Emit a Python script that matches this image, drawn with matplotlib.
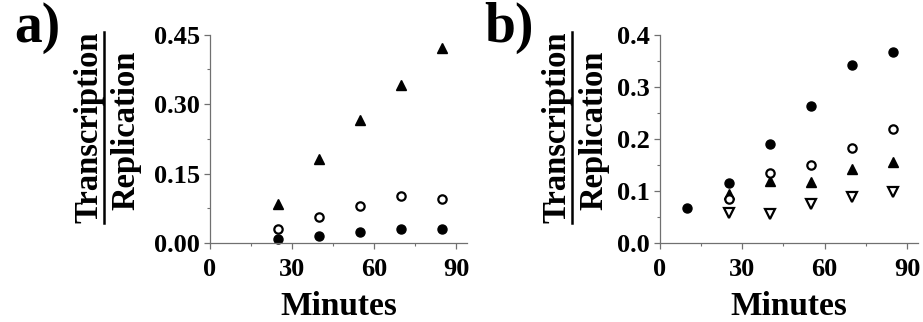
import matplotlib
matplotlib.use('Agg')
from matplotlib import pyplot as plt
from matplotlib.lines import Line2D
from matplotlib.ticker import MultipleLocator, FormatStrFormatter

plt.rcParams['font.family'] = ['Liberation Serif', 'DejaVu Serif']
plt.rcParams['font.weight'] = 'bold'

minutes = [25, 40, 55, 70, 85]

# panel a
a_triangle = [0.084, 0.182, 0.266, 0.342, 0.421]
a_open = [0.031, 0.057, 0.079, 0.102, 0.095]
a_filled = [0.009, 0.015, 0.024, 0.030, 0.031]

# panel b
b_filled_min = [10, 25, 40, 55, 70, 85]
b_filled = [0.068, 0.115, 0.190, 0.263, 0.341, 0.367]
b_open = [0.085, 0.134, 0.150, 0.183, 0.219]
b_triangle = [0.095, 0.119, 0.118, 0.143, 0.156]
b_down = [0.057, 0.055, 0.075, 0.089, 0.097]

AXIS_GRAY = '#707070'


def style_axis(ax, ymax, ystep, yfmt):
    ax.set_xlim(0, 94)
    ax.set_ylim(0, ymax)
    ax.xaxis.set_major_locator(MultipleLocator(30))
    ax.xaxis.set_minor_locator(MultipleLocator(15))
    ax.yaxis.set_major_locator(MultipleLocator(ystep))
    ax.yaxis.set_minor_locator(MultipleLocator(ystep / 2))
    ax.yaxis.set_major_formatter(FormatStrFormatter(yfmt))
    for side in ['top', 'right']:
        ax.spines[side].set_visible(False)
    for side in ['left', 'bottom']:
        ax.spines[side].set_color(AXIS_GRAY)
        ax.spines[side].set_linewidth(0.9)
    ax.tick_params(which='major', length=4, width=0.9, color=AXIS_GRAY,
                   labelsize=19)
    ax.tick_params(axis='x', which='major', pad=7)
    ax.tick_params(axis='y', which='major', pad=3)
    ax.tick_params(which='minor', length=2, width=0.8, color=AXIS_GRAY)
    ax.set_xlabel('Minutes', fontsize=24, fontweight='bold', labelpad=7)


fig = plt.figure(figsize=(9.23, 3.22), dpi=100)

ax_a = fig.add_axes([0.2275, 0.2453, 0.2784, 0.647])
ax_a.plot(minutes, a_triangle, '^', color='black', markersize=7.5, clip_on=False)
ax_a.plot(minutes, a_open, 'o', mfc='white', mec='black', mew=1.6, markersize=6, clip_on=False)
ax_a.plot(minutes, a_filled, 'o', color='black', markersize=6.5, clip_on=False)
style_axis(ax_a, 0.45, 0.15, '%.2f')

ax_b = fig.add_axes([0.715, 0.2453, 0.2795, 0.647])
ax_b.plot(b_filled_min, b_filled, 'o', color='black', markersize=6.5, clip_on=False)
ax_b.plot(minutes, b_triangle, '^', color='black', markersize=7.5, clip_on=False)
ax_b.plot(minutes, b_open, 'o', mfc='white', mec='black', mew=1.6, markersize=6, clip_on=False)
ax_b.plot(minutes, b_down, 'v', mfc='white', mec='black', mew=1.6, markersize=7, clip_on=False)
style_axis(ax_b, 0.4, 0.1, '%.1f')

W, H = 923.0, 322.0


def ratio_label(x_top, x_bot, x_line, y0, y1):
    yc = 1 - (y0 + y1) / 2 / H
    fig.text(x_top / W, yc, 'Transcription', rotation=90, ha='center', va='center',
             fontsize=23.5, fontweight='bold')
    fig.text(x_bot / W, 1 - 130 / H, 'Replication', rotation=90, ha='center', va='center',
             fontsize=23.5, fontweight='bold')
    fig.add_artist(Line2D([x_line / W, x_line / W], [1 - y0 / H, 1 - y1 / H],
                          color='black', linewidth=1.8, transform=fig.transFigure))


ratio_label(89, 126, 104, 32, 223)
ratio_label(557, 594, 572, 32, 223)

fig.text(14 / W, 1 - 42 / H, 'a)', fontsize=40, fontweight='bold', ha='left', va='baseline')
fig.text(484 / W, 1 - 42 / H, 'b)', fontsize=40, fontweight='bold', ha='left', va='baseline')

fig.savefig('out.png', dpi=100, facecolor='white')
